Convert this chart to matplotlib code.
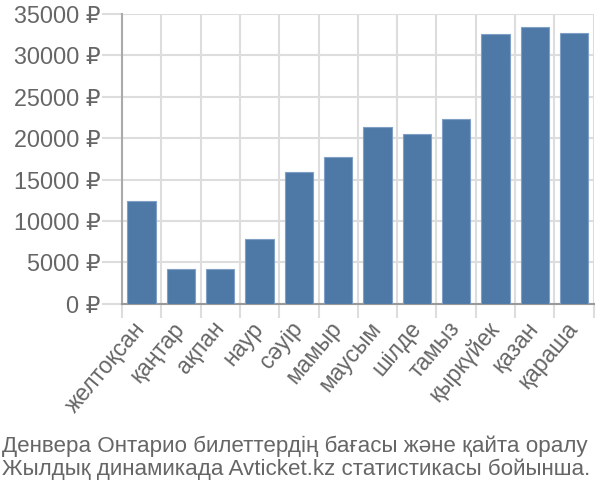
import matplotlib.pyplot as plt
import numpy as np

months = ['желтоқсан', 'қаңтар', 'ақпан', 'наур', 'сәуір', 'мамыр',
          'маусым', 'шілде', 'тамыз', 'қыркүйек', 'қазан', 'қараша']
prices = [12370, 4230, 4230, 7820, 15950, 17690,
          21390, 20460, 22310, 32540, 33430, 32700]
yticks = [0, 5000, 10000, 15000, 20000, 25000, 30000, 35000]
caption = ['Денвера Онтарио билеттердің бағасы және қайта оралу',
           'Жылдық динамикада Avticket.kz статистикасы бойынша.']

plt.rcParams['font.family'] = ['Liberation Sans', 'DejaVu Sans']
txt = '#666666'

fig = plt.figure(figsize=(6, 5), dpi=100)
ax = fig.add_axes([0.2033, 0.3926, 0.7862, 0.5794])

x = np.arange(len(months))
ax.bar(x, prices, width=0.72, color='#4e79a7', edgecolor='#7f9fc4', linewidth=0.8, zorder=3)

ax.set_xlim(-0.5, len(months) - 0.5)
ax.set_ylim(0, 35000)
ax.set_yticks(yticks)
ax.set_yticklabels([f'{v} ₽' for v in yticks], fontsize=16.8, color=txt)

# подписи по центру столбцов, сетка по границам
ax.set_xticks(x)
ax.set_xticklabels(months, rotation=50, ha='right', va='center', rotation_mode='anchor',
                   fontsize=16.5, color=txt)
ax.set_xticks(np.arange(len(months) + 1) - 0.5, minor=True)
ax.tick_params(axis='x', which='major', length=0, pad=15)
ax.tick_params(axis='x', which='minor', length=10, color='#dddddd', width=1.5)
ax.tick_params(axis='y', length=14.5, color='#dddddd', width=1.5, pad=1)
ax.yaxis.get_major_ticks()[0].tick1line.set_color('#aaaaaa')

ax.grid(True, axis='y', color='#dddddd', linewidth=1.5, zorder=0)
ax.grid(True, axis='x', which='minor', color='#dddddd', linewidth=1.5, zorder=0)

for s in ['top', 'right']:
    ax.spines[s].set_visible(False)
ax.spines['left'].set_color('#aaaaaa')
ax.spines['left'].set_linewidth(1.5)
ax.spines['bottom'].set_color('#999999')
ax.spines['bottom'].set_linewidth(1.5)

fig.text(0.003, 0.04, caption[0] + '\n' + caption[1], fontsize=16.1, color=txt,
         ha='left', va='bottom', linespacing=1.12)

fig.savefig('out.png', dpi=100)
